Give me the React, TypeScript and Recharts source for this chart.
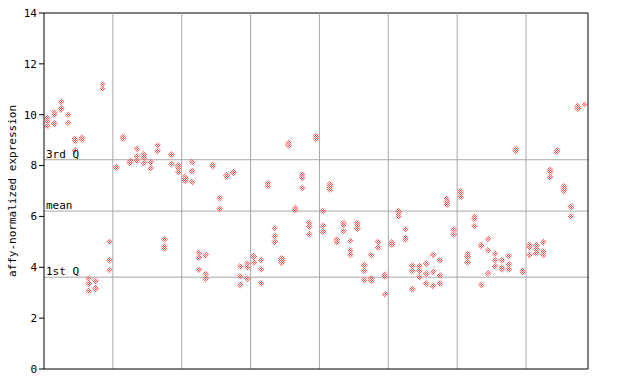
import { ScatterChart, Scatter, XAxis, YAxis, ReferenceLine } from 'recharts';

// expression values per sample, one group per block between the grey separators
const GROUP_1: number[][] = [
  [9.87, 9.75, 9.56], [10.1, 10.0, 9.65], [10.5, 10.25, 10.2], [10.0, 9.68], [9.05, 8.97, 8.6],
  [9.1, 9.02], [3.56, 3.36, 3.07], [3.46, 3.18, 3.15], [11.2, 11.03], [5.0, 4.28, 3.89],
];
const GROUP_2: number[][] = [
  [7.95, 7.92], [9.12, 9.07], [8.18, 8.1, 8.14], [8.65, 8.36, 8.2], [8.45, 8.3, 8.1],
  [8.14, 7.9], [8.8, 8.57], [5.1, 4.83, 4.73], [8.44, 8.06], [8.0, 7.9, 7.75],
];
const GROUP_3: number[][] = [
  [7.55, 7.5, 7.4], [8.14, 7.79, 7.35], [4.56, 4.38, 3.9], [4.48, 3.74, 3.55], [8.03, 7.96],
  [6.72, 6.3], [7.62, 7.56], [7.75, 7.7], [4.04, 3.65, 3.3], [4.15, 4.0, 3.55],
];
const GROUP_4: number[][] = [
  [4.44, 4.4, 4.19], [4.28, 3.92, 3.37], [7.3, 7.2], [5.54, 5.23, 5.0], [4.35, 4.27, 4.19],
  [8.9, 8.8], [6.33, 6.25], [7.64, 7.52, 7.12], [5.75, 5.6, 5.3], [9.15, 9.05],
];
const GROUP_5: number[][] = [
  [6.21, 5.63, 5.4], [7.26, 7.16, 7.05], [5.09, 4.98], [5.74, 5.65, 5.42], [5.04, 4.67, 4.48],
  [5.74, 5.65, 5.53], [4.08, 3.86, 3.5], [4.48, 3.57, 3.47], [4.99, 4.78], [3.72, 3.64, 2.94],
];
const GROUP_6: number[][] = [
  [4.97, 4.9], [6.2, 6.09, 6.0], [5.5, 5.16, 5.08], [4.06, 3.85, 3.14], [4.05, 3.85, 3.61],
  [4.14, 3.75, 3.36], [4.48, 3.82, 3.26], [4.28, 3.69, 3.36], [6.7, 6.59, 6.46], [5.5, 5.47, 5.3],
];
const GROUP_7: number[][] = [
  [7.01, 6.92, 6.76], [4.53, 4.42, 4.2], [6.0, 5.9, 5.62], [4.88, 4.84, 3.3], [5.11, 4.67, 3.77],
  [4.53, 4.28, 4.04], [4.28, 3.99, 3.91], [4.44, 4.12, 3.92], [8.65, 8.58], [3.87, 3.8],
];
const GROUP_8: number[][] = [
  [4.88, 4.79, 4.48], [4.87, 4.71, 4.56], [4.99, 4.63, 4.48], [7.84, 7.75, 7.55], [8.6, 8.54],
  [7.19, 7.1, 7.01], [6.4, 6.37, 6.01], [10.34, 10.24], [10.4],
];

const GROUPS = [GROUP_1, GROUP_2, GROUP_3, GROUP_4, GROUP_5, GROUP_6, GROUP_7, GROUP_8];
const GROUP_SIZE = 10;
const Y_TICKS = [0, 2, 4, 6, 8, 10, 12, 14];

const QUARTILES = [
  { label: '3rd Q', value: 8.23 },
  { label: 'mean', value: 6.21 },
  { label: '1st Q', value: 3.61 },
];

const RED = '#ff5050';
const GRID = '#a8a8a8';
const FONT = '"DejaVu Sans Mono", monospace';

const points = GROUPS.flatMap((group, g) =>
  group.flatMap((vals, i) => vals.map(v => ({ x: g * GROUP_SIZE + i, y: v })))
);
const nSamples = GROUPS.reduce((n, g) => n + g.length, 0);
const separators = GROUPS.slice(1).map((_, g) => (g + 1) * GROUP_SIZE - 0.5);

const Diamond = (props: any) => {
  const { cx, cy } = props;
  const r = 3.5;
  return (
    <polygon
      points={`${cx},${cy - r} ${cx + r},${cy} ${cx},${cy + r} ${cx - r},${cy}`}
      fill="url(#hatch)"
    />
  );
};

export default function App() {
  return (
    <div style={{ position: 'absolute', left: 0, top: 0, width: 640, height: 384, background: '#fff' }}>
      <ScatterChart width={640} height={384} margin={{ top: 13, right: 52, bottom: 0, left: 0 }}>
        <defs>
          <pattern id="hatch" patternUnits="userSpaceOnUse" width="2" height="2">
            <rect x="0" y="0" width="1" height="1" fill={RED} />
            <rect x="1" y="1" width="1" height="1" fill={RED} />
          </pattern>
        </defs>
        <XAxis
          type="number"
          dataKey="x"
          domain={[-0.5, nSamples - 0.5]}
          tick={false}
          tickLine={false}
          axisLine={{ stroke: '#000' }}
          height={15}
        />
        <YAxis
          type="number"
          dataKey="y"
          domain={[0, 14]}
          ticks={Y_TICKS}
          width={44}
          tickSize={5}
          tickMargin={2}
          axisLine={{ stroke: '#000' }}
          tickLine={{ stroke: '#000' }}
          tick={{ fill: '#000', fontSize: 11, fontFamily: FONT }}
          label={{
            value: 'affy-normalized expression',
            angle: -90,
            position: 'insideLeft',
            offset: 12,
            style: { fill: '#000', fontSize: 11, fontFamily: FONT, textAnchor: 'middle' },
          }}
        />
        <YAxis
          yAxisId="right"
          orientation="right"
          mirror
          type="number"
          domain={[0, 14]}
          ticks={Y_TICKS}
          width={1}
          tickSize={5}
          axisLine={{ stroke: '#000' }}
          tickLine={{ stroke: '#000' }}
          tickFormatter={() => ''}
        />
        <ReferenceLine y={14} stroke="#000" />
        {separators.map(x => (
          <ReferenceLine key={x} x={x} stroke={GRID} />
        ))}
        {QUARTILES.map(q => (
          <ReferenceLine
            key={q.label}
            y={q.value}
            stroke={GRID}
            label={{
              value: q.label,
              position: 'insideBottomLeft',
              offset: 2,
              style: { fill: '#000', fontSize: 11, fontFamily: FONT },
            }}
          />
        ))}
        <Scatter data={points} shape={Diamond} isAnimationActive={false} />
      </ScatterChart>
    </div>
  );
}
